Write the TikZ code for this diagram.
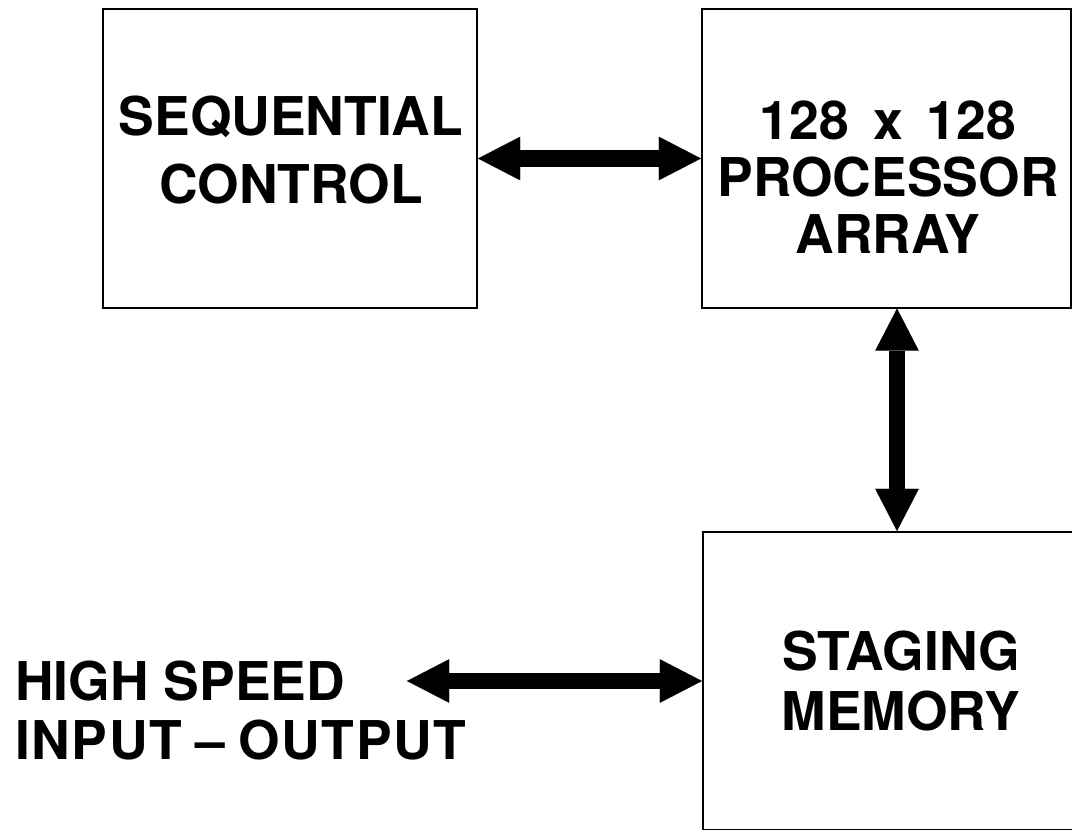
\documentclass[tikz,border=0pt]{standalone}
\usepackage{fontspec}
\setmainfont{TeX Gyre Heros}
\usetikzlibrary{arrows.meta, positioning}

\tikzset{
  blk/.style={draw, line width=1.4pt, inner sep=0pt, minimum height=7.45cm},
  lbl/.style={font=\fontsize{38}{44}\selectfont\bfseries, align=center, inner sep=0pt},
  dbl/.style={line width=12pt,
    {Triangle[length=30pt, width=31pt, line width=0.1pt]}-{Triangle[length=30pt, width=31pt, line width=0.1pt]}},
}

\begin{document}
\begin{tikzpicture}[x=0.025cm, y=-0.025cm]
  \useasboundingbox (0,0) rectangle (1072,829);
  \clip (0,0) rectangle (1072,829);

  % the three blocks
  \node[blk, minimum width=9.35cm] (seq) at (290,158.5) {};
  \node[blk, minimum width=9.225cm] (proc) at (886.5,158.5) {};
  \node[blk, minimum width=9.7cm] (stage) at (897,681) {};

  \node[lbl] (seqtxt) at (291,150) {SEQUENTIAL\\[3.7pt]CONTROL};
  \node[lbl] (proctxt) at (888,177) {128\hspace{0.45em}x\hspace{0.45em}128\\[-3.5pt]PROCESSOR\\[-3.5pt]ARRAY};
  \node[lbl] (stagetxt) at (901,681) {STAGING\\[-2pt]MEMORY};

  % outside world
  \node[lbl, anchor=west] (hs) at (15,681) {HIGH SPEED};
  \node[lbl, anchor=north west] (io) at (15,720)
    {\addfontfeature{LetterSpace=3}INPUT\hspace{0.25em}--\hspace{0.25em}OUTPUT};
  \coordinate (iotip) at (407,681);

  % data paths
  \draw[dbl] (seq) -- (proc);
  \draw[dbl] (stage.north |- proc.south) -- (stage.north);
  \draw[dbl] (iotip) -- (stage.west);
\end{tikzpicture}
\end{document}
